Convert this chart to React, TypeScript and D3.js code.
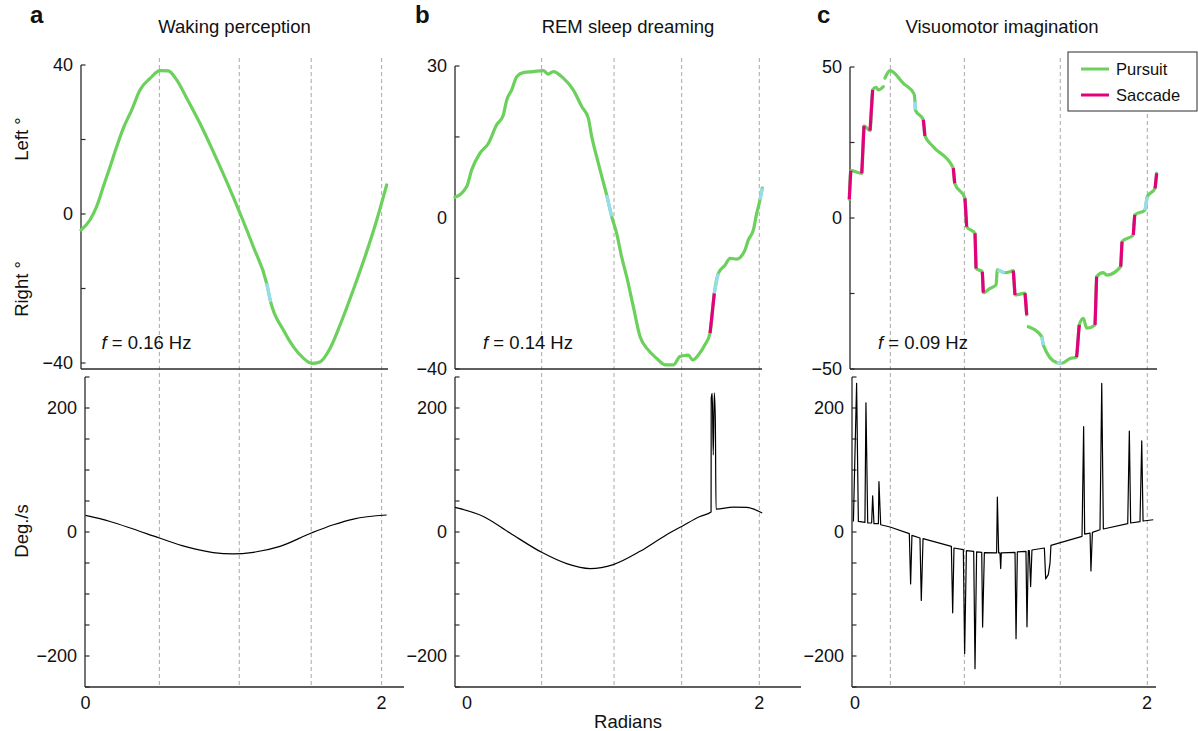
import React from 'react';
import * as d3 from 'd3';

// ---------- DATA ----------
const titles = ['Waking perception', 'REM sleep dreaming', 'Visuomotor imagination'];
const letters = ['a', 'b', 'c'];
const freqLabels = ['0.16', '0.14', '0.09'];
const legendLabels = ['Pursuit', 'Saccade'];

// top-plot tick values / labels
const aTopTicks = [-40, -20, 0, 20, 40];
const aTopLabels = [-40, 0, 40];
const bTopTicks = [-40, -16, 16, 30];
const bTopLabels = [-40, 0, 30];
const cTopTicks = [-50, -25, 0, 25, 50];
const cTopLabels = [-50, 0, 50];
const velTicks = [-250, -200, -150, -100, -50, 0, 50, 100, 150, 200, 250];
const velLabels = [-200, 0, 200];
const xLabels = [0, 2];

// vertical dashed markers (radians)
const aDash = [0.499, 1.039, 1.525, 2.001];
const bDash = [0.511, 1.006, 1.469, 2.0];
const cDash = [0.242, 0.749, 1.406, 2.002];

// Panel a: eye position (deg) and segment type (p pursuit, s saccade, b other, g gap)
const aPosX = [-0.030, 0.030, 0.075, 0.120, 0.166, 0.211, 0.255, 0.312, 0.368, 0.436, 0.503, 0.559, 0.616, 0.684, 0.774, 0.864, 0.954, 1.044, 1.134, 1.224, 1.251, 1.336, 1.404, 1.472, 1.528, 1.584, 1.652, 1.720, 1.809, 1.900, 1.968, 2.035];
const aPosY = [-4.3, -1.6, 2.0, 7.3, 12.7, 18.1, 23.0, 27.9, 33.3, 36.4, 38.5, 38.4, 36.0, 31.1, 24.3, 16.7, 8.7, 0.2, -8.8, -18.6, -23.6, -31.1, -35.6, -38.7, -40.1, -39.7, -36.1, -29.8, -20.4, -10.1, -1.6, 7.8];
const aPosType = ['', 'p', 'p', 'p', 'p', 'p', 'p', 'p', 'p', 'p', 'p', 'p', 'p', 'p', 'p', 'p', 'p', 'p', 'p', 'p', 'b', 'p', 'p', 'p', 'p', 'p', 'p', 'p', 'p', 'p', 'p', 'p'];
// Panel a: eye velocity (deg/s)
const aVelX = [0, 0.166, 0.323, 0.499, 0.684, 0.863, 0.998, 1.134, 1.314, 1.526, 1.675, 1.81, 2.035];
const aVelY = [26.7, 17.0, 4.8, -9.7, -24.1, -33.3, -35.4, -32.8, -23.2, -1.6, 11.7, 20.9, 27.4];

// Panel b
const bPosX = [-0.082, -0.002, 0.032, 0.089, 0.146, 0.203, 0.248, 0.272, 0.306, 0.340, 0.385, 0.454, 0.522, 0.556, 0.590, 0.659, 0.727, 0.785, 0.830, 0.853, 0.887, 0.922, 0.956, 0.990, 1.024, 1.058, 1.093, 1.138, 1.184, 1.241, 1.298, 1.355, 1.412, 1.457, 1.514, 1.544, 1.583, 1.628, 1.663, 1.692, 1.719, 1.765, 1.800, 1.845, 1.902, 1.925, 1.959, 1.982, 2.005, 2.020];
const bPosY = [4.1, 6.2, 9.5, 12.8, 14.7, 18.4, 20.3, 23.3, 25.3, 27.9, 28.7, 28.9, 29.1, 28.4, 28.9, 27.6, 25.3, 22.0, 19.7, 16.1, 12.1, 8.2, 4.5, 0.3, -4.1, -10.3, -15.6, -23.5, -31.4, -35.0, -37.2, -38.9, -38.9, -36.7, -36.3, -37.6, -36.3, -33.6, -30.5, -20.0, -14.7, -12.5, -10.7, -10.9, -8.5, -5.8, -3.2, 0.9, 3.6, 5.9];
const bPosType = ['', 'p', 'p', 'p', 'p', 'p', 'p', 'p', 'p', 'p', 'p', 'p', 'p', 'p', 'p', 'p', 'p', 'p', 'p', 'p', 'p', 'p', 'p', 'b', 'p', 'p', 'p', 'p', 'p', 'p', 'p', 'p', 'p', 'p', 'p', 'p', 'p', 'p', 'p', 's', 'b', 'p', 'p', 'p', 'p', 'p', 'p', 'p', 'p', 'b'];
const bVelX = [-0.082, 0.112, 0.294, 0.511, 0.682, 0.842, 1.001, 1.184, 1.366, 1.469, 1.594, 1.670, 1.671, 1.678, 1.685, 1.692, 1.699, 1.704, 1.822, 1.914, 2.020];
const bVelY = [39.6, 25.1, -1.6, -32.8, -51.0, -59.0, -52.6, -31.2, -4.3, 9.0, 25.1, 32.2, 215.5, 223.6, 124.3, 224.6, 183.4, 37.0, 40.2, 39.6, 30.6];

// Panel c
const cPosX = [-0.039, -0.029, 0.046, 0.062, 0.103, 0.121, 0.144, 0.160, 0.194, 0.205, 0.240, 0.331, 0.404, 0.411, 0.413, 0.468, 0.479, 0.536, 0.673, 0.683, 0.753, 0.765, 0.822, 0.829, 0.872, 0.879, 0.925, 0.966, 0.975, 1.027, 1.062, 1.084, 1.096, 1.164, 1.176, 1.187, 1.279, 1.290, 1.382, 1.416, 1.473, 1.518, 1.536, 1.564, 1.587, 1.644, 1.655, 1.701, 1.724, 1.820, 1.829, 1.906, 1.916, 1.986, 2.002, 2.055, 2.066];
const cPosY = [6.2, 15.7, 14.8, 30.5, 28.9, 42.4, 43.3, 42.4, 43.5, 46.3, 48.8, 44.6, 41.1, 38.5, 35.8, 32.5, 27.2, 23.6, 16.5, 11.5, 6.5, -2.9, -5.1, -16.7, -17.8, -24.7, -23.3, -22.2, -17.2, -18.1, -17.8, -17.4, -25.5, -24.9, -32.1, -36.0, -39.3, -42.1, -47.9, -48.1, -46.5, -46.1, -35.4, -33.2, -36.5, -35.4, -19.4, -18.1, -18.9, -16.1, -7.8, -5.6, 1.0, 2.6, 7.1, 9.8, 14.8];
const cPosType = ['', 's', 'p', 's', 'p', 's', 'p', 'p', 'p', 'g', 'p', 'p', 'p', 'p', 'b', 'p', 's', 'p', 'p', 's', 'p', 's', 'p', 's', 'p', 's', 'p', 'p', 'p', 'b', 'p', 'p', 's', 'p', 's', 'g', 'p', 'b', 'p', 'b', 'p', 'p', 's', 'p', 'p', 'p', 's', 'p', 'p', 'p', 's', 'p', 's', 'p', 'b', 'p', 's'];
const cVelX = [-0.011, 0.011, 0.023, 0.068, 0.075, 0.087, 0.114, 0.121, 0.130, 0.160, 0.164, 0.176, 0.240, 0.372, 0.381, 0.390, 0.445, 0.454, 0.466, 0.660, 0.669, 0.678, 0.742, 0.751, 0.763, 0.813, 0.822, 0.833, 0.868, 0.874, 0.886, 0.970, 0.975, 0.984, 0.993, 0.998, 1.002, 1.096, 1.103, 1.112, 1.171, 1.178, 1.187, 1.194, 1.203, 1.212, 1.297, 1.306, 1.324, 1.336, 1.342, 1.555, 1.566, 1.573, 1.610, 1.616, 1.626, 1.678, 1.690, 1.701, 1.868, 1.879, 1.888, 1.952, 1.964, 1.973, 2.043];
const cVelY = [17.1, 239.6, 17.1, 15.5, 208.5, 14.5, 14.5, 58.4, 13.4, 13.4, 81.4, 11.7, 8.0, -2.7, -83.7, -5.4, -9.7, -110.5, -10.8, -23.1, -130.3, -25.8, -28.5, -195.8, -30.1, -31.2, -220.4, -32.2, -32.8, -153.4, -33.3, -33.8, 56.3, -33.8, -33.8, -59.0, -33.8, -32.8, -172.2, -32.2, -31.2, -152.9, -30.1, -30.1, -88.0, -29.0, -25.8, -75.6, -68.7, -49.9, -21.5, -7.0, 169.9, -3.3, -1.7, -62.8, -0.6, 3.7, 239.6, 4.8, 13.4, 162.9, 14.5, 16.6, 146.9, 17.7, 19.8];

// ---------- STYLE ----------
const FONT = '"Liberation Sans", Arial, Helvetica, sans-serif';
const GREEN = '#6bd05c';
const MAGENTA = '#e4007c';
const CYAN = '#96dcee';
const AXIS = '#2a2a2a';
const DASH = '#a8a8a8';
const TXT = 18.5;
const TICK = 18;
const segColor: Record<string, string> = { p: GREEN, s: MAGENTA, b: CYAN };

const fmt = (v: number) => (v < 0 ? '\u2212' + Math.abs(v) : String(v));

const velY = d3.scaleLinear().domain([-250, 250]).range([687, 377]);

const panels = [
  {
    letter: letters[0], title: titles[0], freq: freqLabels[0],
    x: d3.scaleLinear().domain([0, 2]).range([85.5, 381.5]),
    y: d3.scaleLinear().domain([-40, 40]).range([363, 65]),
    topTicks: aTopTicks, topLabels: aTopLabels, dash: aDash,
    topAxisX: [81, 388], botAxisX: [85, 404], letterX: 30, titleX: 234.5, freqX: 101.5,
    posX: aPosX, posY: aPosY, posT: aPosType, velX: aVelX, velY: aVelY, curve: d3.curveMonotoneX,
  },
  {
    letter: letters[1], title: titles[1], freq: freqLabels[1],
    x: d3.scaleLinear().domain([0, 2]).range([467, 759.3]),
    y: d3.scaleLinear().domain([-40, 0, 30]).range([369, 218, 66]),
    topTicks: bTopTicks, topLabels: bTopLabels, dash: bDash,
    topAxisX: [455, 762], botAxisX: [455, 801], letterX: 415, titleX: 628, freqX: 483,
    posX: bPosX, posY: bPosY, posT: bPosType, velX: bVelX, velY: bVelY, curve: d3.curveMonotoneX,
  },
  {
    letter: letters[2], title: titles[2], freq: freqLabels[2],
    x: d3.scaleLinear().domain([0, 2]).range([855, 1147]),
    y: d3.scaleLinear().domain([-50, 50]).range([369, 67]),
    topTicks: cTopTicks, topLabels: cTopLabels, dash: cDash,
    topAxisX: [850, 1157], botAxisX: [852, 1156], letterX: 817, titleX: 1002, freqX: 878,
    posX: cPosX, posY: cPosY, posT: cPosType, velX: cVelX, velY: cVelY, curve: d3.curveLinear,
  },
];

const TOP_AXIS_Y = 369;
const BOT_AXIS_Y = 687;

function Panel({ p }: { p: (typeof panels)[number] }) {
  const yTop = p.y;
  const topMaxY = Math.min(...yTop.range());
  // pursuit trace as smooth runs (split at gaps)
  const runs: [number, number][][] = [];
  let cur: [number, number][] = [];
  p.posX.forEach((x, i) => {
    if (p.posT[i] === 'g') {
      if (cur.length > 1) runs.push(cur);
      cur = [];
    }
    cur.push([x, p.posY[i]]);
  });
  if (cur.length > 1) runs.push(cur);
  const posLine = d3.line<[number, number]>().x(d => p.x(d[0])).y(d => yTop(d[1])).curve(d3.curveMonotoneX);
  const overlay: { x1: number; y1: number; x2: number; y2: number; t: string }[] = [];
  for (let i = 1; i < p.posX.length; i++) {
    const t = p.posT[i];
    if (t === 's' || t === 'b') {
      overlay.push({ x1: p.x(p.posX[i - 1]), y1: yTop(p.posY[i - 1]), x2: p.x(p.posX[i]), y2: yTop(p.posY[i]), t });
    }
  }
  overlay.sort((a, b) => (a.t === 's' ? 1 : 0) - (b.t === 's' ? 1 : 0));
  const velPts = p.velX.map((v, i) => [v, p.velY[i]] as [number, number]);
  const velLine = d3.line<[number, number]>().x(d => p.x(d[0])).y(d => velY(d[1])).curve(p.curve);
  const tx = p.topAxisX[0];
  const bx = p.botAxisX[0];
  return (
    <g>
      <text x={p.letterX} y={23} fontSize={24} fontWeight="bold" fontFamily={FONT} fill="#111">{p.letter}</text>
      <text x={p.titleX} y={33} fontSize={TXT} textAnchor="middle" fontFamily={FONT} fill="#111">{p.title}</text>
      {p.dash.map((d, i) => (
        <line key={'d' + i} x1={p.x(d)} x2={p.x(d)} y1={58} y2={BOT_AXIS_Y} stroke={DASH} strokeWidth={1} strokeDasharray="4,3" />
      ))}
      {/* top axes */}
      <line x1={tx} x2={tx} y1={topMaxY} y2={TOP_AXIS_Y} stroke={AXIS} strokeWidth={1.3} />
      <line x1={tx} x2={p.topAxisX[1]} y1={TOP_AXIS_Y} y2={TOP_AXIS_Y} stroke={AXIS} strokeWidth={1.3} />
      {p.topTicks.map((t, i) => (
        <line key={'tt' + i} x1={tx} x2={tx + 4.5} y1={yTop(t)} y2={yTop(t)} stroke={AXIS} strokeWidth={1.2} />
      ))}
      {p.topLabels.map((t, i) => (
        <text key={'tl' + i} x={tx - 8} y={yTop(t)} dy="0.35em" textAnchor="end" fontSize={TICK} fontFamily={FONT} fill="#111">{fmt(t)}</text>
      ))}
      {/* position trace */}
      {runs.map((r, i) => (
        <path key={'r' + i} d={posLine(r) || ''} fill="none" stroke={GREEN} strokeWidth={3.2} strokeLinecap="round" strokeLinejoin="round" />
      ))}
      {overlay.map((s, i) => (
        <line key={'o' + i} x1={s.x1} y1={s.y1} x2={s.x2} y2={s.y2} stroke={segColor[s.t]} strokeWidth={3.2} strokeLinecap="butt" />
      ))}
      <text x={p.freqX} y={348.5} fontSize={TXT} fontFamily={FONT} fill="#111">
        <tspan fontStyle="italic">f</tspan>
        <tspan>{' = ' + p.freq + ' Hz'}</tspan>
      </text>
      {/* bottom axes */}
      <line x1={bx} x2={bx} y1={velY(250)} y2={BOT_AXIS_Y} stroke={AXIS} strokeWidth={1.3} />
      <line x1={bx} x2={p.botAxisX[1]} y1={BOT_AXIS_Y} y2={BOT_AXIS_Y} stroke={AXIS} strokeWidth={1.3} />
      {velTicks.map((t, i) => (
        <line key={'vt' + i} x1={bx} x2={bx + 4.5} y1={velY(t)} y2={velY(t)} stroke={AXIS} strokeWidth={1.2} />
      ))}
      {velLabels.map((t, i) => (
        <text key={'vl' + i} x={bx - 8} y={velY(t)} dy="0.35em" textAnchor="end" fontSize={TICK} fontFamily={FONT} fill="#111">{fmt(t)}</text>
      ))}
      {xLabels.map((t, i) => (
        <text key={'xl' + i} x={p.x(t)} y={703} dy="0.35em" textAnchor="middle" fontSize={TICK} fontFamily={FONT} fill="#111">{fmt(t)}</text>
      ))}
      <path d={velLine(velPts) || ''} fill="none" stroke="#000" strokeWidth={1.2} strokeLinejoin="round" />
    </g>
  );
}

export default function App() {
  return (
    <svg width={1198} height={731} style={{ position: 'absolute', left: 0, top: 0, background: '#fff' }} fontFamily={FONT}>
      <rect x={0} y={0} width={1198} height={731} fill="#fff" />
      {panels.map((p, i) => <Panel key={i} p={p} />)}
      {/* y labels */}
      <text transform="translate(22,139) rotate(-90)" textAnchor="middle" dy="0.35em" fontSize={TXT} fill="#111">Left °</text>
      <text transform="translate(22,289) rotate(-90)" textAnchor="middle" dy="0.35em" fontSize={TXT} fill="#111">Right °</text>
      <text transform="translate(22,531) rotate(-90)" textAnchor="middle" dy="0.35em" fontSize={TXT} fill="#111">Deg./s</text>
      <text x={628} y={728} textAnchor="middle" fontSize={TXT} fill="#111">Radians</text>
      {/* legend */}
      <g>
        <rect x={1068} y={52} width={129} height={59} fill="#fff" stroke={AXIS} strokeWidth={1} />
        {legendLabels.map((l, i) => (
          <g key={l}>
            <line x1={1081} x2={1109} y1={69 + i * 26} y2={69 + i * 26} stroke={i === 0 ? GREEN : MAGENTA} strokeWidth={3} />
            <text x={1116} y={69 + i * 26} dy="0.35em" fontSize={16.5} fill="#111">{l}</text>
          </g>
        ))}
      </g>
    </svg>
  );
}
